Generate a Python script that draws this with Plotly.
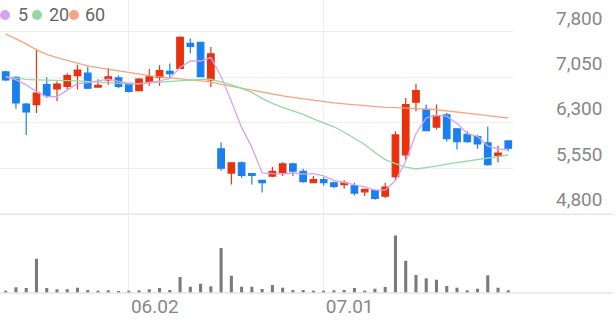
import plotly.graph_objects as go

dates = [
    "2025-05-15", "2025-05-16", "2025-05-19", "2025-05-20", "2025-05-21", "2025-05-22",
    "2025-05-23", "2025-05-26", "2025-05-27", "2025-05-28", "2025-05-29", "2025-05-30",
    "2025-06-02", "2025-06-04", "2025-06-05", "2025-06-09", "2025-06-10", "2025-06-11",
    "2025-06-12", "2025-06-13", "2025-06-16", "2025-06-17", "2025-06-18", "2025-06-19",
    "2025-06-20", "2025-06-23", "2025-06-24", "2025-06-25", "2025-06-26", "2025-06-27",
    "2025-06-30", "2025-07-01", "2025-07-02", "2025-07-03", "2025-07-04", "2025-07-07",
    "2025-07-08", "2025-07-09", "2025-07-10", "2025-07-11", "2025-07-14", "2025-07-15",
    "2025-07-16", "2025-07-17", "2025-07-18", "2025-07-21", "2025-07-22", "2025-07-23",
    "2025-07-24", "2025-07-25",
]
opens = [7140, 7050, 6610, 6600, 6930, 6860, 6900, 7080, 7120, 6890,
         7010, 7040, 6950, 6830, 6980, 7050, 7150, 7200, 7610, 7630,
         7010, 5870, 5470, 5640, 5460, 5350, 5420, 5480, 5620, 5500,
         5310, 5360, 5310, 5280, 5260, 5160, 5180, 5090, 5410, 5770,
         6640, 6520, 6230, 6430, 6200, 6110, 6070, 5970, 5760, 6000]
highs = [7160, 7070, 6630, 7520, 7050, 6980, 7120, 7260, 7230, 7020,
         7200, 7080, 6960, 7040, 7190, 7250, 7280, 7730, 7690, 7640,
         7550, 5980, 5650, 5660, 5460, 5360, 5570, 5650, 5640, 5540,
         5420, 5400, 5330, 5350, 5310, 5210, 5200, 5310, 6160, 6710,
         6940, 6600, 6600, 6460, 6210, 6160, 6100, 6240, 5920, 6000]
lows = [6990, 6530, 6100, 6460, 6710, 6660, 6860, 6850, 6860, 6890,
        6930, 6870, 6800, 6820, 6910, 6910, 7040, 7190, 7450, 7050,
        6890, 5510, 5280, 5390, 5280, 5150, 5400, 5420, 5420, 5310,
        5300, 5260, 5220, 5210, 5100, 5090, 5030, 5060, 5360, 5690,
        6490, 6160, 6190, 5990, 5860, 5970, 5870, 5590, 5650, 5830]
closes = [7010, 6630, 6480, 6790, 6750, 6940, 7080, 7170, 6870, 6920,
          7060, 6900, 6820, 7020, 7060, 7160, 7110, 7710, 7560, 7060,
          7440, 5550, 5640, 5430, 5430, 5310, 5500, 5620, 5500, 5330,
          5360, 5310, 5250, 5310, 5140, 5200, 5050, 5240, 6100, 6600,
          6830, 6170, 6420, 6040, 5990, 5990, 5950, 5610, 5800, 5880]
volumes = [23000, 57000, 50000, 343000, 50000, 37000, 37000, 53000, 30000, 23000,
           27000, 20000, 23000, 27000, 37000, 50000, 30000, 160000, 63000, 93000,
           67000, 450000, 173000, 63000, 63000, 40000, 80000, 53000, 30000, 30000,
           23000, 23000, 27000, 30000, 50000, 23000, 43000, 60000, 577000, 323000,
           180000, 147000, 133000, 70000, 53000, 27000, 43000, 177000, 53000, 27000]
ma5 = [7063, 7009, 6927, 6811, 6731, 6730, 6840, 6945, 6962, 6996,
       7021, 6985, 6950, 6944, 6972, 6991, 7033, 7212, 7320, 7320,
       7376, 7065, 6650, 6224, 5898, 5472, 5461, 5458, 5471, 5451,
       5462, 5424, 5350, 5312, 5274, 5241, 5189, 5187, 5346, 5660,
       6120, 6380, 6424, 6410, 6289, 6122, 6077, 5916, 5868, 5847]
ma20 = [7058, 7034, 7017, 7009, 7001, 6997, 6996, 6992, 6984, 6976,
        6964, 6955, 6943, 6948, 6960, 6968, 6984, 7001, 7009, 7017,
        7020, 6976, 6927, 6869, 6802, 6704, 6622, 6556, 6498, 6440,
        6366, 6300, 6234, 6144, 6045, 5942, 5808, 5693, 5625, 5567,
        5537, 5559, 5583, 5616, 5641, 5674, 5699, 5724, 5745, 5768]
ma60 = [7767, 7684, 7602, 7503, 7429, 7376, 7327, 7283, 7239, 7212,
        7185, 7152, 7124, 7099, 7077, 7058, 7042, 7025, 7009, 7001,
        6976, 6935, 6902, 6869, 6835, 6802, 6769, 6745, 6720, 6695,
        6674, 6654, 6629, 6613, 6596, 6580, 6563, 6555, 6552, 6547,
        6539, 6526, 6515, 6498, 6482, 6465, 6440, 6418, 6399, 6377]
price_ticks = [4800, 5550, 6300, 7050, 7800]
date_ticks = ["2025-06-02", "2025-07-01"]
date_labels = ["06.02", "07.01"]
ma_names = ["5", "20", "60"]

UP = "#e8320e"
DOWN = "#1a80f0"
MA_COLORS = ["#d7a2f2", "#94daa0", "#f6a580"]
GRID = "#efefef"
FONT = "Roboto"

W, H = 616, 321
PL, PR, PT, PB = 0, 103, 0, 27.5
PW = W - PL - PR
PH = H - PT - PB


def px(x):
    return (x - PL) / PW


def py(y):
    return 1 - (y - PT) / PH


fig = go.Figure()
fig.add_trace(go.Candlestick(
    x=dates, open=opens, high=highs, low=lows, close=closes,
    increasing=dict(line=dict(color=UP, width=1.2), fillcolor=UP),
    decreasing=dict(line=dict(color=DOWN, width=1.2), fillcolor=DOWN),
    whiskerwidth=0, xaxis="x", yaxis="y", hoverinfo="skip",
))
for vals, col, name in zip([ma60, ma20, ma5], MA_COLORS[::-1], ma_names[::-1]):
    fig.add_trace(go.Scatter(x=dates, y=vals, mode="lines", name=name,
                             line=dict(color=col, width=1.3), xaxis="x", yaxis="y",
                             hoverinfo="skip"))
fig.add_trace(go.Bar(x=dates, y=volumes, marker=dict(color="#7a7a7a", line=dict(width=0)),
                     xaxis="x2", yaxis="y2", hoverinfo="skip"))

xr = [-0.556, 49.46]
fig.update_layout(
    width=W, height=H,
    margin=dict(l=PL, r=PR, t=PT, b=PB, pad=0),
    paper_bgcolor="white", plot_bgcolor="white",
    showlegend=False,
    boxgap=0.2, boxgroupgap=0.2, bargap=0.7,
    font=dict(family=FONT, color="#888888"),
    xaxis=dict(domain=[0, 1], anchor="y", type="category", range=xr,
               rangeslider=dict(visible=False), tickmode="array", tickvals=date_ticks,
               showticklabels=False, showgrid=True, gridcolor=GRID, gridwidth=1,
               zeroline=False, showline=False, ticks=""),
    xaxis2=dict(domain=[0, 1], anchor="y2", type="category", range=xr, matches="x",
                tickmode="array", tickvals=date_ticks, ticktext=date_labels,
                showgrid=True, gridcolor=GRID, gridwidth=1, zeroline=False,
                showline=False, ticks="", ticklabelshift=26,
                tickfont=dict(family=FONT, size=19, color="#888888")),
    yaxis=dict(domain=[py(214), 1], anchor="x", range=[4800, 7800 + 32 * 750 / 45.5],
               side="right", tickmode="array", tickvals=price_ticks,
               tickformat=",d", showgrid=True, gridcolor=GRID, gridwidth=1,
               zeroline=False, showline=False, ticks="",
               ticklabelshift=-14, ticklabelstandoff=42,
               tickfont=dict(family=FONT, size=19, color="#888888")),
    yaxis2=dict(domain=[0, py(215)], anchor="x2", range=[0, 785000],
                showticklabels=False, showgrid=False, zeroline=False, showline=False),
)

# panel separators
fig.add_shape(type="line", xref="paper", yref="paper", x0=0, x1=px(613),
              y0=py(214.5), y1=py(214.5), line=dict(color="#e6e6e6", width=1.5))
fig.add_shape(type="line", xref="paper", yref="paper", x0=0, x1=px(613),
              y0=0, y1=0, line=dict(color="#e6e6e6", width=1.5))

# legend
legend_pos = [(5, 16), (37, 47), (74, 83)]
for (cx, tx), col, name in zip(legend_pos, MA_COLORS, ma_names):
    r = 5
    fig.add_shape(type="circle", xref="paper", yref="paper",
                  x0=px(cx - r), x1=px(cx + r), y0=py(15 + r), y1=py(15 - r),
                  fillcolor=col, line=dict(width=0))
    fig.add_annotation(xref="paper", yref="paper", x=px(tx), y=py(15), text=name,
                       showarrow=False, xanchor="left", yanchor="middle",
                       font=dict(family=FONT, size=18, color="#666666"))

fig.write_html("out.html")
